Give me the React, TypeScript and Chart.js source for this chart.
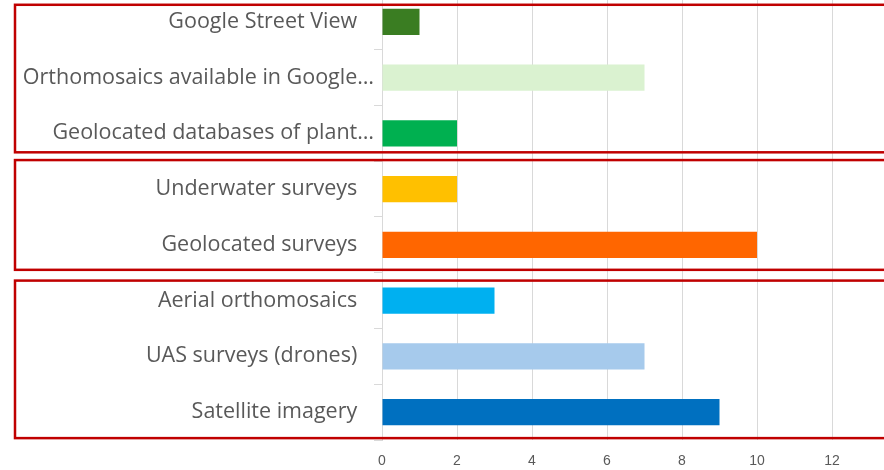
import React, { useEffect, useRef } from "react";
import { Chart, registerables } from "chart.js";

Chart.register(...registerables);

const categories = [
  "Google Street View   ",
  "Orthomosaics available in Google…",
  "Geolocated databases of plant…",
  "Underwater surveys   ",
  "Geolocated surveys   ",
  "Aerial orthomosaics   ",
  "UAS surveys (drones)   ",
  "Satellite imagery   ",
];
const values = [1, 7, 2, 2, 10, 3, 7, 9];
const barColors = [
  "#3A7D22",
  "#DAF2D0",
  "#00B050",
  "#FFC000",
  "#FF6600",
  "#00B0F0",
  "#A6CAEC",
  "#0070C0",
];
const xTicks = [0, 2, 4, 6, 8, 10, 12, 14];
// groups of categories enclosed by red frames: [firstIndex, lastIndex, topOffset, bottomOffset]
const groups: [number, number, number, number][] = [
  [0, 2, -17, 19],
  [3, 4, -29, 25],
  [5, 7, -20, 26],
];

const framePlugin = {
  id: "frames",
  afterDraw(chart: any) {
    const y = chart.scales.y;
    const ctx = chart.ctx;
    ctx.save();
    ctx.strokeStyle = "#C00000";
    ctx.lineWidth = 2.5;
    groups.forEach(([a, b, t, btm]) => {
      const top = y.getPixelForValue(a) + t;
      const bottom = y.getPixelForValue(b) + btm;
      ctx.strokeRect(15, top, chart.width + 20, bottom - top);
    });
    ctx.restore();
  },
};

export default function App() {
  const ref = useRef<HTMLCanvasElement>(null);
  useEffect(() => {
    const chart = new Chart(ref.current!, {
      type: "bar",
      data: {
        labels: categories,
        datasets: [
          {
            data: values,
            backgroundColor: barColors,
            borderWidth: 0,
            categoryPercentage: 1,
            barPercentage: 0.47,
          },
        ],
      },
      options: {
        indexAxis: "y",
        animation: false,
        responsive: false,
        maintainAspectRatio: false,
        layout: { padding: 0 },
        plugins: { legend: { display: false }, tooltip: { enabled: false } },
        scales: {
          x: {
            min: 0,
            max: 14,
            afterBuildTicks: (s: any) => {
              s.ticks = xTicks.map((v) => ({ value: v }));
            },
            afterFit: (s: any) => {
              s.height = 30;
            },
            grid: { color: "#D9D9D9", lineWidth: 1, drawTicks: false },
            border: { display: false },
            ticks: {
              padding: 13,
              color: "#595959",
              font: { family: "Liberation Sans", size: 14 },
              callback: (v: any) => (v === 14 ? "" : String(v)),
            },
          },
          y: {
            afterFit: (s: any) => {
              s.width = 382;
            },
            grid: {
              drawOnChartArea: false,
              drawTicks: true,
              tickLength: 8,
              color: "#D9D9D9",
              offset: true,
            },
            border: { display: true, color: "#D9D9D9" },
            ticks: {
              padding: 0,
              color: "#595959",
              font: { family: "Open Sans", size: 21.5 },
            },
          },
        },
      },
      plugins: [framePlugin],
    });
    return () => chart.destroy();
  }, []);
  return (
    <div
      style={{
        position: "fixed",
        left: 0,
        top: 0,
        width: 884,
        height: 470,
        overflow: "hidden",
        background: "#fff",
      }}
    >
      <div style={{ position: "absolute", left: 0, top: -19 }}>
        <canvas ref={ref} width={920} height={489} style={{ display: "block" }} />
      </div>
    </div>
  );
}
